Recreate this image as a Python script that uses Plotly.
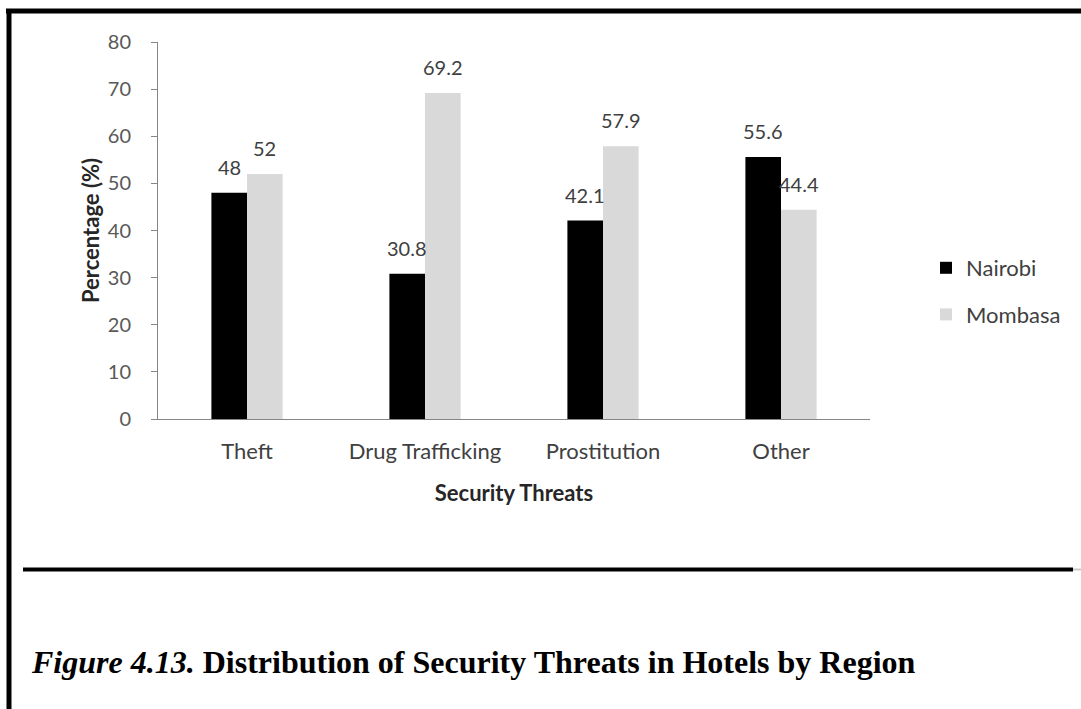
import plotly.graph_objects as go

# Survey results: share of reported security threats by region
categories = ["Theft", "Drug Trafficking", "Prostitution", "Other"]
nairobi = [48, 30.8, 42.1, 55.6]
mombasa = [52, 69.2, 57.9, 44.4]
y_ticks = [0, 10, 20, 30, 40, 50, 60, 70, 80]

W, H = 1081, 709


def px_x(x):
    return x / W


def px_y(y):
    return 1 - y / H


LABEL_FONT = "Lato, 'Open Sans', sans-serif"

fig = go.Figure()
fig.add_trace(go.Bar(
    name="Nairobi", x=categories, y=nairobi,
    marker=dict(color="#000000", line=dict(width=0)),
    legendgroup="a",
))
fig.add_trace(go.Bar(
    name="Mombasa", x=categories, y=mombasa,
    marker=dict(color="#d9d9d9", line=dict(width=0)),
    legendgroup="b",
))

# value labels above each bar
bar_half = 17.8
for series, shift in ((nairobi, -bar_half), (mombasa, bar_half)):
    for cat, val in zip(categories, series):
        fig.add_annotation(
            x=cat, y=val, xref="x", yref="y", text=f"{val:g}",
            showarrow=False, xshift=shift, yshift=26,
            xanchor="center", yanchor="middle",
            font=dict(family=LABEL_FONT, size=20, color="#404040"),
        )

# caption below the chart frame
fig.add_annotation(
    x=px_x(29), y=px_y(662), xref="paper", yref="paper",
    text="<b><i>Figure 4.13.</i> Distribution of Security Threats in Hotels by Region</b>",
    showarrow=False, xanchor="left", yanchor="middle",
    font=dict(family="'Liberation Serif', 'Times New Roman', serif", size=32, color="#000000"),
)

# page frame lines
frame = [
    (px_x(6), px_y(11), 1.0, px_y(11), 5),
    (px_x(9), px_y(9), px_x(9), 0.0, 5),
    (px_x(23), px_y(569.5), px_x(1073), px_y(569.5), 4),
]
for x0, y0, x1, y1, w in frame:
    fig.add_shape(type="line", xref="paper", yref="paper",
                  x0=x0, y0=y0, x1=x1, y1=y1,
                  line=dict(color="#000000", width=w))
fig.add_shape(type="line", xref="paper", yref="paper",
              x0=px_x(1073), y0=px_y(569.5), x1=1.0, y1=px_y(569.5),
              line=dict(color="#c8c8c8", width=2))

fig.update_layout(
    width=W, height=H,
    margin=dict(l=0, r=0, t=0, b=0, autoexpand=False),
    paper_bgcolor="#ffffff", plot_bgcolor="#ffffff",
    barmode="group", bargap=0.6, bargroupgap=0,
    font=dict(family=LABEL_FONT, size=20, color="#595959"),
    showlegend=True,
    legend=dict(
        x=px_x(926), y=px_y(247), xanchor="left", yanchor="top",
        font=dict(family=LABEL_FONT, size=22, color="#404040"),
        traceorder="grouped", tracegroupgap=15,
        itemwidth=30, bgcolor="rgba(0,0,0,0)",
    ),
    xaxis=dict(
        domain=[px_x(158), px_x(870)],
        automargin=False,
        showline=True, linecolor="#868686", linewidth=1,
        ticks="", showgrid=False, zeroline=False,
        ticklabelstandoff=13,
        tickfont=dict(family=LABEL_FONT, size=22, color="#404040"),
        title=dict(text="<b>Security Threats</b>", standoff=22,
                   font=dict(family=LABEL_FONT, size=22, color="#262626")),
    ),
    yaxis=dict(
        domain=[px_y(419), px_y(42)],
        automargin=False,
        range=[0, 80], tickvals=y_ticks,
        showline=True, linecolor="#868686", linewidth=1,
        ticks="outside", ticklen=6, tickcolor="#868686",
        ticklabelstandoff=16,
        showgrid=False, zeroline=False,
        tickfont=dict(family=LABEL_FONT, size=20, color="#595959"),
        title=dict(text="<b>Percentage (%)</b>", standoff=2,
                   font=dict(family=LABEL_FONT, size=22, color="#262626")),
    ),
)

fig.write_html("out.html")
